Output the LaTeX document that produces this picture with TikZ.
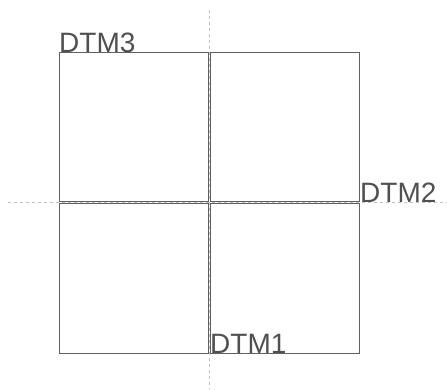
\documentclass[tikz,border=0pt]{standalone}
\usepackage{fontspec}
\setmainfont{Liberation Sans}
\definecolor{edgegray}{HTML}{606060}
\definecolor{axisgray}{HTML}{C0C0C0}
\definecolor{textgray}{HTML}{505050}
\begin{document}
\begin{tikzpicture}[x=1pt,y=-1pt,
  cell/.style={draw=edgegray,line width=1pt,inner sep=0pt,outer sep=0pt,minimum width=149pt,minimum height=149pt,anchor=north west},
  axis/.style={draw=axisgray,line width=0.8pt,dash pattern=on 3pt off 3pt},
  lab/.style={text=textgray,inner sep=0pt,anchor=base west,font=\fontsize{28}{28}\selectfont}]
\useasboundingbox (0,0) rectangle (447,389);
\node[cell] (tl) at (59,52) {};
\node[cell] (tr) at (210,52) {};
\node[cell,minimum height=150pt] (bl) at (59,203) {};
\node[cell,minimum height=150pt] (br) at (210,203) {};
\coordinate (vtop) at (209,10);
\coordinate (vbot) at (209,389);
\coordinate (hleft) at (8,202);
\coordinate (hright) at (447,202);
\draw[axis] (vtop) -- (vbot);
\draw[axis] (hleft) -- (hright);
\node[lab] (d3) at (59,52) {DTM3};
\node[lab] (d2) at (360,202) {DTM2};
\node[lab] (d1) at (210,353) {DTM1};
\end{tikzpicture}
\end{document}
